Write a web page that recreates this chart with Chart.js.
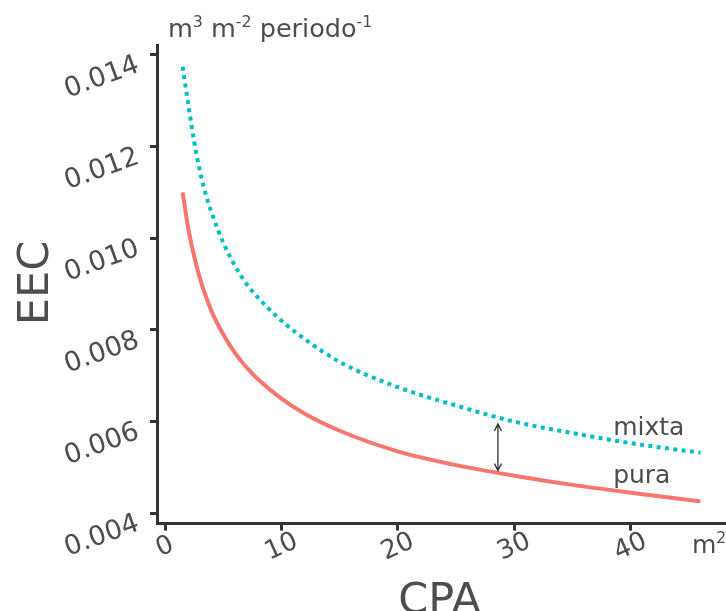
<!DOCTYPE html>
<html>
<head>
<meta charset="utf-8">
<script src="https://cdn.jsdelivr.net/npm/chart.js@4.4.0/dist/chart.umd.min.js"></script>
<style>
  html, body { margin: 0; padding: 0; background: #fff; }
  #wrap { width: 726px; height: 611px; }
</style>
</head>
<body>
<div id="wrap"><canvas id="eecChart" width="726" height="611"></canvas></div>
<script>
// CPA (m2) vs EEC
const cpa = [1.5, 2, 2.5, 3, 3.5, 4, 5, 6, 7, 8, 10, 12, 15, 20, 25, 30, 35, 40, 46];
const pura = [0.0110, 0.0102, 0.0096, 0.00912, 0.00873, 0.0084, 0.0079, 0.0075, 0.00718, 0.00692, 0.0065, 0.00617, 0.0058, 0.00535, 0.00505, 0.00482, 0.00462, 0.00445, 0.00426];
const mixta = [0.01374, 0.0129, 0.0121, 0.01145, 0.01095, 0.01055, 0.0099, 0.0094, 0.0090, 0.0087, 0.0082, 0.0078, 0.0073, 0.00675, 0.00635, 0.0060, 0.00575, 0.00553, 0.00532];

const xTicks = [0, 10, 20, 30, 40];
const yTicks = [0.004, 0.006, 0.008, 0.010, 0.012, 0.014];
const xMin = -0.7, xMax = 48.2;
const yMin = 0.003775, yMax = 0.014215;

// arrow between the two curves and the curve labels
const arrowX = 28.6, arrowTop = 0.00595, arrowBottom = 0.00493;
const labelX = 38.5;
const labelMixtaY = 0.00571, labelPuraY = 0.00467;

const textColor = '#4d4d4d';
const axisColor = '#333333';
const fontFam = '"DejaVu Sans", sans-serif';

function rich(ctx, parts, x, y, size) {
  // parts: [text, isSuperscript]
  let cx = x;
  parts.forEach(([t, sup]) => {
    const fs = sup ? size * 0.62 : size;
    ctx.font = fs + 'px ' + fontFam;
    ctx.fillText(t, cx, sup ? y - size * 0.4 : y);
    cx += ctx.measureText(t).width;
  });
}

const textPlugin = {
  id: 'textPlugin',
  afterDraw(chart) {
    const ctx = chart.ctx;
    const xs = chart.scales.x, ys = chart.scales.y;
    ctx.save();
    ctx.fillStyle = textColor;

    // y tick labels, rotated
    ctx.font = '27px ' + fontFam;
    ctx.textAlign = 'center';
    ctx.textBaseline = 'middle';
    yTicks.forEach(v => {
      const py = ys.getPixelForValue(v);
      ctx.save();
      ctx.translate(102, py + 23);
      ctx.rotate(-20 * Math.PI / 180);
      ctx.fillText(v.toFixed(3), 0, 0);
      ctx.restore();
    });

    // x tick labels, rotated
    ctx.font = '26px ' + fontFam;
    xTicks.forEach(v => {
      const px = xs.getPixelForValue(v);
      ctx.save();
      ctx.translate(px, 547);
      ctx.rotate(-24 * Math.PI / 180);
      ctx.fillText(String(v), 0, 0);
      ctx.restore();
    });

    // axis titles
    ctx.font = '43px ' + fontFam;
    ctx.textBaseline = 'alphabetic';
    ctx.fillText('CPA', (xs.left + xs.right) / 2 - 2, 613);
    ctx.save();
    ctx.translate(48, 283);
    ctx.rotate(-Math.PI / 2);
    ctx.fillText('EEC', 0, 0);
    ctx.restore();

    // units
    ctx.textAlign = 'left';
    rich(ctx, [['m', 0], ['3', 1], [' m', 0], ['-2', 1], [' periodo', 0], ['-1', 1]], 168, 37, 25.5);
    rich(ctx, [['m', 0], ['2', 1]], 692, 553, 25);

    // curve labels
    ctx.font = '25px ' + fontFam;
    ctx.fillText('mixta', xs.getPixelForValue(labelX), ys.getPixelForValue(labelMixtaY));
    ctx.fillText('pura', xs.getPixelForValue(labelX), ys.getPixelForValue(labelPuraY));

    // double-headed arrow
    const ax = xs.getPixelForValue(arrowX);
    const a1 = ys.getPixelForValue(arrowTop), a2 = ys.getPixelForValue(arrowBottom);
    ctx.strokeStyle = axisColor;
    ctx.lineWidth = 1.3;
    ctx.beginPath();
    ctx.moveTo(ax, a1); ctx.lineTo(ax, a2);
    ctx.moveTo(ax - 3.5, a1 + 7); ctx.lineTo(ax, a1); ctx.lineTo(ax + 3.5, a1 + 7);
    ctx.moveTo(ax - 3.5, a2 - 7); ctx.lineTo(ax, a2); ctx.lineTo(ax + 3.5, a2 - 7);
    ctx.stroke();
    ctx.restore();
  }
};

const tickGrid = { drawOnChartArea: false, drawTicks: true, tickLength: 7, tickWidth: 3, tickColor: axisColor };

new Chart(document.getElementById('eecChart'), {
  type: 'line',
  data: {
    datasets: [
      {
        label: 'pura',
        data: cpa.map((x, i) => ({ x: x, y: pura[i] })),
        borderColor: '#F8766D',
        borderWidth: 4,
        pointRadius: 0,
        cubicInterpolationMode: 'monotone',
        fill: false
      },
      {
        label: 'mixta',
        data: cpa.map((x, i) => ({ x: x, y: mixta[i] })),
        borderColor: '#00BFC4',
        borderWidth: 4,
        borderDash: [4, 4.4],
        borderCapStyle: 'butt',
        pointRadius: 0,
        cubicInterpolationMode: 'monotone',
        fill: false
      }
    ]
  },
  options: {
    responsive: false,
    animation: false,
    layout: { padding: { left: 150, top: 45, right: 0, bottom: 80.4 } },
    plugins: { legend: { display: false }, tooltip: { enabled: false } },
    scales: {
      x: {
        type: 'linear', min: xMin, max: xMax,
        afterBuildTicks: s => { s.ticks = xTicks.map(v => ({ value: v })); },
        ticks: { display: false },
        grid: tickGrid,
        border: { color: axisColor, width: 3 }
      },
      y: {
        type: 'linear', min: yMin, max: yMax,
        afterBuildTicks: s => { s.ticks = yTicks.map(v => ({ value: v })); },
        ticks: { display: false },
        grid: tickGrid,
        border: { color: axisColor, width: 3 }
      }
    }
  },
  plugins: [textPlugin]
});
</script>
</body>
</html>
